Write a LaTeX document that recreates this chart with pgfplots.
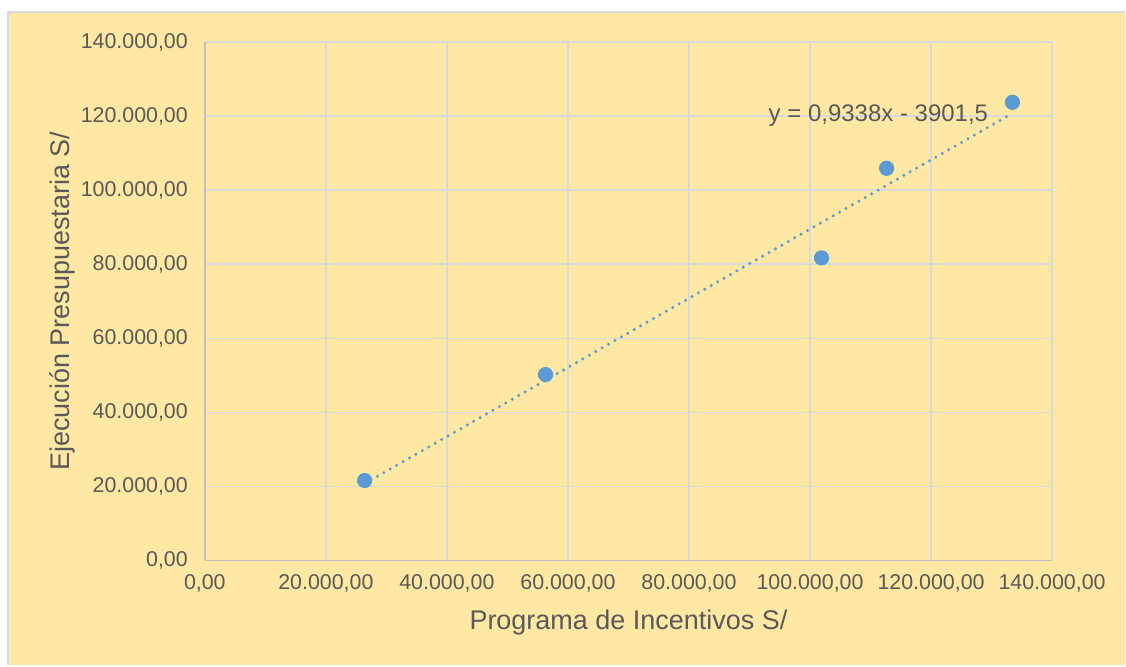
\documentclass[border=0pt]{standalone}
\usepackage{pgfplots}
\pgfplotsset{compat=1.18}
\usepackage{fontspec}
\setmainfont{Liberation Sans}

\definecolor{fondo}{HTML}{FFE8A3}
\definecolor{borde}{HTML}{D9D9D9}
\definecolor{rejilla}{HTML}{D9D9D9}
\definecolor{ejes}{HTML}{BFBFBF}
\definecolor{texto}{HTML}{595959}
\definecolor{azul}{HTML}{5B9BD5}

\begin{document}
\begin{tikzpicture}
% page and chart area
\fill[white] (0,0) rectangle (563pt,333pt);
\fill[fondo] (3.5pt,0) rectangle (563pt,327.5pt);
\draw[borde, line width=1pt] (4pt,0) -- (4pt,327pt) -- (563pt,327pt);

\begin{axis}[
    at={(102.5pt,52.5pt)}, anchor=south west,
    scale only axis,
    width=424pt, height=259.5pt,
    xmin=0, xmax=140000,
    ymin=0, ymax=140000,
    xtick distance=20000,
    ytick distance=20000,
    scaled ticks=false,
    axis x line*=bottom,
    axis y line*=left,
    axis line style={ejes, line width=0.9pt, -},
    major tick length=0pt,
    grid=major,
    major grid style={rejilla, line width=0.7pt},
    /pgf/number format/.cd, fixed, fixed zerofill, precision=2, use comma,
        1000 sep={.}, assume math mode=true,
    /pgfplots/.cd,
    ticklabel style={font=\fontsize{10.7}{12}\selectfont, text=texto},
    xticklabel style={anchor=center, yshift=-11.5pt},
    yticklabel style={anchor=east, xshift=-5pt},
    label style={font=\fontsize{13.5}{16}\selectfont, text=texto},
    xlabel={Programa de Incentivos S/},
    ylabel={Ejecución Presupuestaria S/},
    xlabel style={at={(axis description cs:0.5,-0.1195)}, anchor=center},
    ylabel style={at={(axis description cs:-0.1686,0.5)}, anchor=center},
    clip=false,
]
% trend line y = 0,9338x - 3901,5
\addplot[azul, line width=1.7pt, line cap=round, dash pattern=on 0pt off 3.7pt]
    coordinates {(26400,20750.8) (133400,120667.4)};
% data
\addplot[only marks, mark=*, mark size=3.6pt, mark options={fill=azul, draw=azul}]
    coordinates {
    (26400,21600)
    (56300,50200)
    (101900,81700)
    (112650,105900)
    (133450,123700)
    };
\node[text=texto, font=\fontsize{12}{14}\selectfont, anchor=center]
    at (axis cs:111300,120000) {y = 0,9338x - 3901,5};
\end{axis}
\end{tikzpicture}
\end{document}
